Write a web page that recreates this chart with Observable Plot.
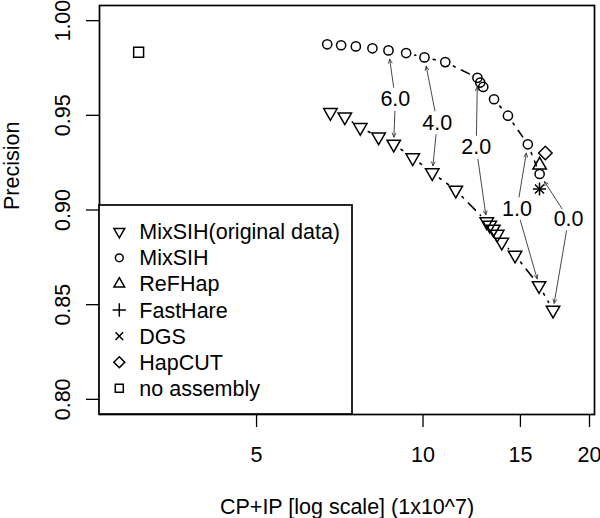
<!DOCTYPE html>
<html><head><meta charset="utf-8">
<script src="https://cdn.jsdelivr.net/npm/d3@7"></script>
<script src="https://cdn.jsdelivr.net/npm/@observablehq/plot@0.6"></script>
<style>
body{margin:0;background:#fff;font-family:"Liberation Sans",Arial,sans-serif;}
#wrap{width:600px;height:518px;}
</style></head><body><div id="wrap"></div>
<script>
// MixSIH (original data) — down triangles
const origX = [6.80, 7.22, 7.70, 8.31, 8.85, 9.58, 10.39, 11.46, 13.04, 13.20, 13.40, 13.62, 13.88, 14.67, 16.21, 17.18];
const origY = [0.9515, 0.9492, 0.9436, 0.9386, 0.9348, 0.9276, 0.9197, 0.9105, 0.8938, 0.8920, 0.8899, 0.8872, 0.8830, 0.8762, 0.8601, 0.8471];
// MixSIH — circles
const mixX = [6.71, 7.11, 7.56, 8.10, 8.66, 9.32, 10.06, 10.97, 12.54, 12.69, 12.85, 13.44, 14.24, 15.47, 16.25];
const mixY = [0.9875, 0.9870, 0.9864, 0.9854, 0.9843, 0.9829, 0.9806, 0.9781, 0.9698, 0.9673, 0.9650, 0.9585, 0.9498, 0.9347, 0.9190];
// other methods
const otherNames = ["ReFHap", "FastHare", "DGS", "HapCUT", "no assembly"];
const otherX = [16.25, 16.24, 16.24, 16.64, 3.06];
const otherY = [0.9237, 0.9111, 0.9111, 0.9301, 0.9833];
// lambda annotations
const lambdaLabels = ["6.0", "4.0", "2.0", "1.0", "0.0"];
const lambdaX = [8.91, 10.61, 12.48, 14.79, 18.33];
const lambdaY = [0.9585, 0.9461, 0.9331, 0.9006, 0.8953];
const lambdaMixIdx = [4, 6, 8, 13, 14];
const lambdaOrigIdx = [4, 6, 8, 14, 15];
// axes
const xTicks = [5, 10, 15, 20];
const yTicks = [0.80, 0.85, 0.90, 0.95, 1.00];
const legendLabels = ["MixSIH(original data)", "MixSIH", "ReFHap", "FastHare", "DGS", "HapCUT", "no assembly"];

const FONT = "Liberation Sans, Arial, Helvetica, sans-serif";
const FS = 21.5;

const orig = origX.map((x, i) => ({x, y: origY[i]}));
const mix = mixX.map((x, i) => ({x, y: mixY[i]}));
const others = otherNames.map((n, i) => ({n, x: otherX[i], y: otherY[i]}));
const pick = n => others.filter(d => d.n === n);
const segs = (xs, ys) => xs.slice(1).map((_, i) => ({x1: xs[i], y1: ys[i], x2: xs[i + 1], y2: ys[i + 1]}));
const ann = lambdaLabels.map((t, i) => ({t, x: lambdaX[i], y: lambdaY[i],
  ux: mixX[lambdaMixIdx[i]], uy: mixY[lambdaMixIdx[i]],
  dx: origX[lambdaOrigIdx[i]], dy: origY[lambdaOrigIdx[i]]}));

const ptStyle = {x: "x", y: "y", stroke: "black", strokeWidth: 1.5, fill: "none"};

const chart = Plot.plot({
  width: 600, height: 518,
  marginLeft: 99, marginRight: 6, marginTop: 5, marginBottom: 104,
  x: {type: "log", domain: [2.60, 20.42]},
  y: {domain: [0.792, 1.008]},
  style: {fontFamily: FONT, fontSize: FS + "px", background: "white", color: "black"},
  marks: [
    Plot.axisX({ticks: xTicks, tickSize: 13, tickPadding: 19, tickFormat: d => String(d), label: null, strokeWidth: 1.3, fontSize: FS}),
    Plot.axisY({ticks: yTicks, tickSize: 13, tickRotate: -90, tickPadding: 17, tickFormat: d3.format(".2f"), label: null, strokeWidth: 1.3, fontSize: FS}),
    Plot.text(["Precision"], {frameAnchor: "left", dx: -87, rotate: -90, fontSize: FS}),
    Plot.text(["CP+IP [log scale] (1x10^7)"], {frameAnchor: "bottom", dy: 99, lineAnchor: "bottom", fontSize: FS}),
    // connecting lines (type "b")
    Plot.arrow(segs(origX, origY), {x1: "x1", y1: "y1", x2: "x2", y2: "y2", headLength: 0, insetStart: 9, insetEnd: 9, stroke: "black", strokeWidth: 1.6, strokeDasharray: "2,7,10,7"}),
    Plot.arrow(segs(mixX, mixY), {x1: "x1", y1: "y1", x2: "x2", y2: "y2", headLength: 0, insetStart: 9, insetEnd: 9, stroke: "black", strokeWidth: 1.6, strokeDasharray: "2,7,10,7"}),
    // lambda arrows
    Plot.arrow(ann, {x1: "x", y1: "y", x2: "ux", y2: "uy", insetStart: 12, insetEnd: 9, headLength: 7, headAngle: 50, stroke: "#333", strokeWidth: 0.9}),
    Plot.arrow(ann, {x1: "x", y1: "y", x2: "dx", y2: "dy", insetStart: 12, insetEnd: 7, headLength: 7, headAngle: 50, stroke: "#333", strokeWidth: 0.9}),
    Plot.text(ann, {x: "x", y: "y", text: "t", fontSize: FS}),
    // points
    Plot.dot(mix, {...ptStyle, r: 4.6}),
    Plot.dot(orig, {...ptStyle, symbol: "triangle", rotate: 180, r: 5}),
    Plot.dot(pick("ReFHap"), {...ptStyle, symbol: "triangle", r: 5}),
    Plot.dot(pick("FastHare"), {...ptStyle, symbol: "plus", r: 4.3}),
    Plot.dot(pick("DGS"), {...ptStyle, symbol: "times", r: 4.2}),
    Plot.dot(pick("HapCUT"), {...ptStyle, symbol: "square", rotate: 45, r: 5.4}),
    Plot.dot(pick("no assembly"), {...ptStyle, symbol: "square", r: 5.6}),
    Plot.frame({stroke: "black", strokeWidth: 1.7})
  ]
});
document.getElementById("wrap").append(chart);

// legend (R-style box, bottom-left inside plot)
const svg = d3.select(chart);
const lg = svg.append("g").attr("text-anchor", "start");
const bx = 99, by = 205, bw = 253, bh = 209;
lg.append("rect").attr("x", bx).attr("y", by).attr("width", bw).attr("height", bh)
  .attr("fill", "white").attr("stroke", "black").attr("stroke-width", 1.7);
const legSym = [
  {s: d3.symbolTriangle, size: 50, rot: 180},
  {s: d3.symbolCircle, size: 48, rot: 0},
  {s: d3.symbolTriangle, size: 50, rot: 0},
  {s: d3.symbolPlus, size: 60, rot: 0},
  {s: d3.symbolTimes, size: 40, rot: 0},
  {s: d3.symbolSquare, size: 60, rot: 45},
  {s: d3.symbolSquare, size: 64, rot: 0}
];
legendLabels.forEach((lab, i) => {
  const cy = 231.7 + i * 26.1;
  lg.append("path").attr("d", d3.symbol(legSym[i].s, legSym[i].size)())
    .attr("transform", `translate(119.3,${cy}) rotate(${legSym[i].rot})`)
    .attr("fill", "none").attr("stroke", "black").attr("stroke-width", 1.5);
  lg.append("text").attr("x", 139.3).attr("y", cy).attr("dy", "0.35em")
    .attr("text-anchor", "start")
    .attr("font-family", FONT).attr("font-size", FS).attr("fill", "black").text(lab);
});
</script></body></html>
